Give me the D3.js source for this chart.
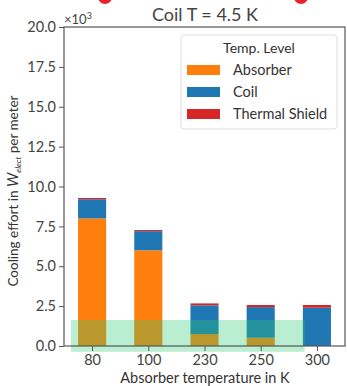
<!DOCTYPE html>
<html>
<head>
<meta charset="utf-8">
<script src="https://cdn.jsdelivr.net/npm/d3@7"></script>
<style>
body { margin: 0; background: #fff; }
text { font-family: Lato, "Open Sans", sans-serif; fill: #333; }
</style>
</head>
<body>
<div id="chart"></div>
<script>
// data (values in units of 10^3)
const temps = ["80", "100", "230", "250", "300"];
const absorber = [8.0, 6.0, 0.75, 0.52, 0.0];
const coil = [1.2, 1.2, 1.8, 1.92, 2.4];
const shield = [0.08, 0.07, 0.12, 0.13, 0.17];
const seriesNames = ["Absorber", "Coil", "Thermal Shield"];
const seriesColors = ["#ff7f0e", "#1f77b4", "#d62728"];
const yTicks = [0, 2.5, 5, 7.5, 10, 12.5, 15, 17.5, 20];
const bandX = [-0.375, 3.78];   // green target band, in bar-index units
const bandY = [-0.36, 1.63];

const W = 347, H = 386;
const mLeft = 64, mRight = 345, mTop = 27, mBottom = 346;

const svg = d3.select("#chart").append("svg")
    .attr("width", W).attr("height", H);

const x = d3.scaleLinear().domain([-0.5, 4.5]).range([mLeft, mRight]);
const y = d3.scaleLinear().domain([0, 20]).range([mBottom, mTop]);

// decorative red marks cut at the top
svg.selectAll("circle.deco").data([105, 301]).enter().append("circle")
    .attr("cx", d => d).attr("cy", -3).attr("r", 7)
    .style("fill", "#e8232d");

// stacked bars
const rows = temps.map((t, i) => ({i: i, Absorber: absorber[i], Coil: coil[i], "Thermal Shield": shield[i]}));
const stack = d3.stack().keys(seriesNames)(rows);
const bw = x(0.25) - x(0);

svg.append("g").selectAll("g").data(stack).enter().append("g")
    .style("fill", (d, k) => seriesColors[k])
    .selectAll("rect").data(d => d).enter().append("rect")
    .attr("x", d => x(d.data.i) - bw)
    .attr("width", 2 * bw)
    .attr("y", d => y(d[1]))
    .attr("height", d => y(d[0]) - y(d[1]));

// green band overlay
svg.append("rect")
    .attr("x", x(bandX[0])).attr("width", x(bandX[1]) - x(bandX[0]))
    .attr("y", y(bandY[1])).attr("height", y(bandY[0]) - y(bandY[1]))
    .style("fill", "rgba(46,204,113,0.33)");

// axes
const yAxis = d3.axisLeft(y).tickValues(yTicks).tickFormat(d3.format(".1f")).tickSize(5).tickPadding(3);
const xAxis = d3.axisBottom(x).tickValues(d3.range(temps.length)).tickFormat(i => temps[i]).tickSize(5).tickPadding(3);

const gy = svg.append("g").attr("transform", `translate(${mLeft},0)`).call(yAxis);
const gx = svg.append("g").attr("transform", `translate(0,${mBottom})`).call(xAxis);
[gx, gy].forEach(g => {
    g.select(".domain").remove();
    g.selectAll("line").style("stroke", "#555");
    g.selectAll("text").style("font-size", "14.5px").style("fill", "#444")
        .style("font-family", "Lato, sans-serif");
});
gx.selectAll("text").attr("dy", "0.75em");

// frame
svg.append("rect")
    .attr("x", mLeft).attr("y", mTop)
    .attr("width", mRight - mLeft).attr("height", mBottom - mTop)
    .style("fill", "none").style("stroke", "#555").style("stroke-width", 1.2);

// multiplier
const mult = svg.append("text").attr("x", mLeft).attr("y", 24).style("font-size", "13px").style("fill", "#444");
mult.append("tspan").text("×10");
mult.append("tspan").attr("dy", -5).style("font-size", "9px").text("3");

// title
svg.append("text").attr("x", 205).attr("y", 21).attr("text-anchor", "middle")
    .style("font-size", "18px").style("fill", "#444").text("Coil T = 4.5 K");

// axis labels
svg.append("text").attr("x", 205).attr("y", 383).attr("text-anchor", "middle")
    .style("font-size", "14.5px").text("Absorber temperature in K");

const yl = svg.append("text")
    .attr("transform", "translate(18,191) rotate(-90)")
    .attr("text-anchor", "middle").style("font-size", "13.5px");
yl.append("tspan").text("Cooling effort in ");
yl.append("tspan").style("font-style", "italic").style("font-size", "15px").text("W");
yl.append("tspan").attr("dy", 3).style("font-size", "8px").style("font-style", "italic").text("elect");
yl.append("tspan").attr("dy", -3).text(" per meter");

// legend
const lg = svg.append("g").attr("transform", "translate(181,35)");
lg.append("rect").attr("width", 156).attr("height", 94).attr("rx", 3)
    .style("fill", "rgba(255,255,255,0.85)").style("stroke", "#ddd");
lg.append("text").attr("x", 78).attr("y", 18).attr("text-anchor", "middle")
    .style("font-size", "14px").text("Temp.  Level");
seriesNames.forEach((s, k) => {
    lg.append("rect").attr("x", 6).attr("y", 30 + k * 22).attr("width", 33).attr("height", 10)
        .style("fill", seriesColors[k]);
    lg.append("text").attr("x", 52).attr("y", 40 + k * 22)
        .style("font-size", "14.5px").text(s);
});
</script>
</body>
</html>
